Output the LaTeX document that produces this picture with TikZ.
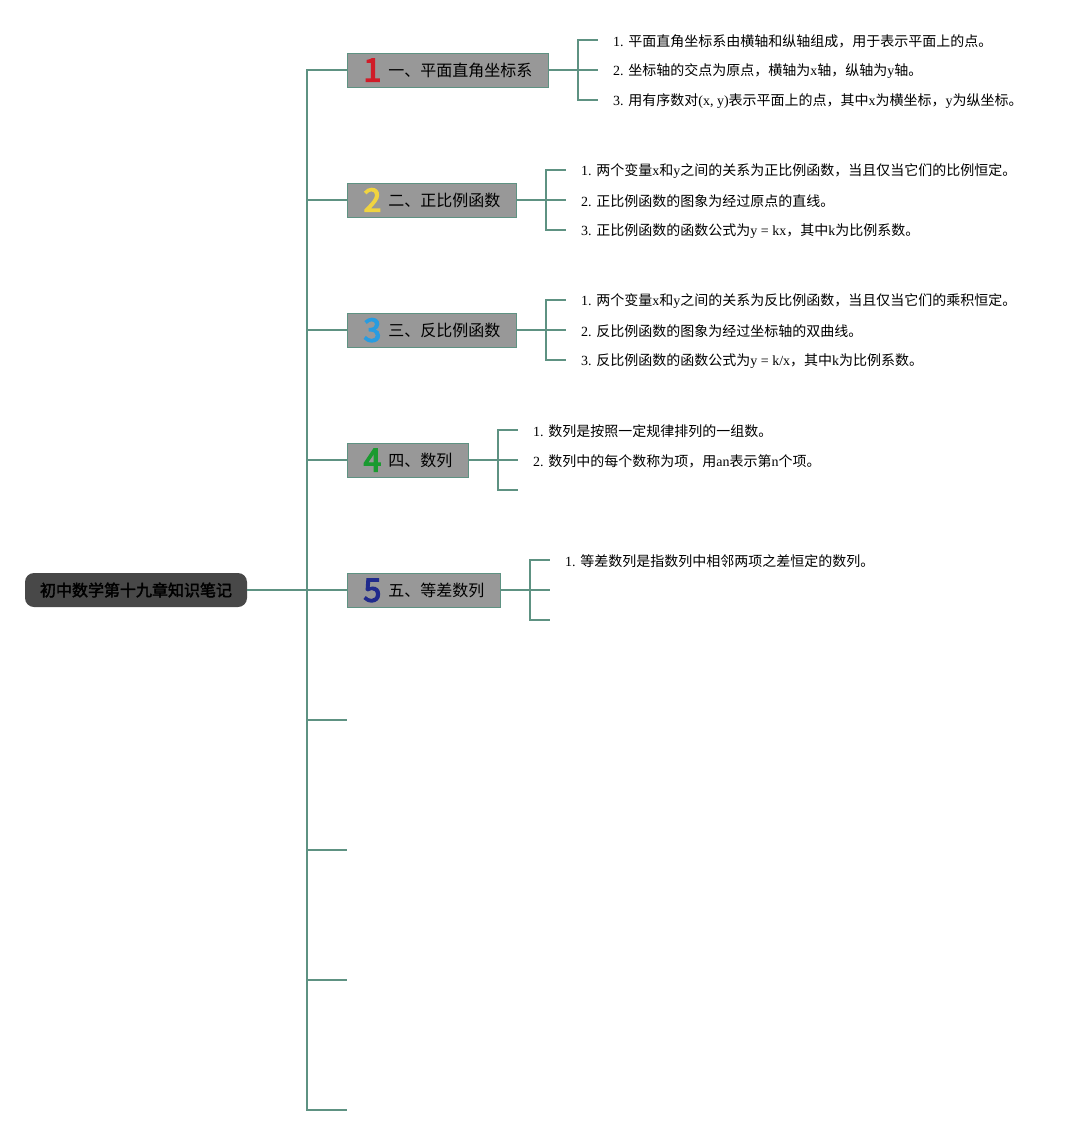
\documentclass[tikz,border=0pt]{standalone}
\usepackage{fontspec}
\usepackage{tikz}
\usetikzlibrary{calc}
\setmainfont{Liberation Serif}
\newfontfamily\cjk{Noto Sans CJK SC}
\newfontfamily\cjkbold[FakeBold=2.5]{Noto Sans CJK SC}
\newfontfamily\numfont[FakeBold=4]{Noto Sans CJK SC}
\newcommand{\z}[1]{{\cjk #1}}
\newcommand{\numtag}[2]{\smash{\raisebox{-5.5pt}{\textcolor{#1}{\numfont\fontsize{32}{32}\selectfont #2}}}\hspace{7pt}}
\definecolor{linec}{RGB}{94,146,130}
\definecolor{topicfill}{RGB}{152,152,152}
\definecolor{rootfill}{RGB}{72,72,72}
\definecolor{numa}{RGB}{208,28,40}
\definecolor{numb}{RGB}{240,212,64}
\definecolor{numc}{RGB}{40,156,224}
\definecolor{numd}{RGB}{26,154,48}
\definecolor{nume}{RGB}{32,42,140}

\begin{document}
\begin{tikzpicture}[x=1pt,y=-1pt,
  link/.style={draw=linec,line width=2pt},
  rootbox/.style={fill=rootfill,rounded corners=9pt,minimum height=34pt,
    inner xsep=15pt,text=black,font=\cjkbold\fontsize{16}{18}\selectfont},
  topic/.style={anchor=west,fill=topicfill,draw=linec,line width=1pt,
    minimum height=34pt,inner xsep=16pt,inner ysep=0pt,
    font=\cjk\fontsize{16}{18}\selectfont},
  item/.style={anchor=west,inner xsep=15pt,inner ysep=0pt,
    font=\fontsize{14}{16}\selectfont}]
\useasboundingbox (0,0) rectangle (1082,1135);

% centre and spine
\node[rootbox] (root) at (136,590) {初中数学第十九章知识笔记};
\coordinate (spine) at (307,590);

% main topics
\node[topic] (t1) at (347,70) {\numtag{numa}{1}一、平面直角坐标系};
\node[topic] (t2) at (347,200) {\numtag{numb}{2}二、正比例函数};
\node[topic] (t3) at (347,330) {\numtag{numc}{3}三、反比例函数};
\node[topic] (t4) at (347,460) {\numtag{numd}{4}四、数列};
\node[topic] (t5) at (347,590) {\numtag{nume}{5}五、等差数列};
\coordinate (e6) at (347,720);
\coordinate (e7) at (347,850);
\coordinate (e8) at (347,980);
\coordinate (e9) at (347,1110);

\draw[link] (root) -- (spine);
\foreach \t in {t1,t2,t3,t4,t5}
  \draw[link] (spine) |- (\t.west);
\foreach \t in {e6,e7,e8,e9}
  \draw[link] (spine) |- (\t);

% items of topic 1
\node[item] (t1a) at (598,41) {1. \z{平面直角坐标系由横轴和纵轴组成，用于表示平面上的点。}};
\node[item] (t1b) at (598,71) {2. \z{坐标轴的交点为原点，横轴为}x\z{轴，纵轴为}y\z{轴。}};
\node[item] (t1c) at (598,101) {3. \z{用有序数对}(x, y)\z{表示平面上的点，其中}x\z{为横坐标，}y\z{为纵坐标。}};
\coordinate (b1) at (578,70);
\draw[link] (t1) -- (b1);
\foreach \i in {t1a,t1b,t1c}
  \draw[link] (b1) |- ($(\i.west)+(0,-1)$);

% items of topic 2
\node[item] (t2a) at (566,171) {1. \z{两个变量}x\z{和}y\z{之间的关系为正比例函数，当且仅当它们的比例恒定。}};
\node[item] (t2b) at (566,201) {2. \z{正比例函数的图象为经过原点的直线。}};
\node[item] (t2c) at (566,231) {3. \z{正比例函数的函数公式为}y = kx\z{，其中}k\z{为比例系数。}};
\coordinate (b2) at (546,200);
\draw[link] (t2) -- (b2);
\foreach \i in {t2a,t2b,t2c}
  \draw[link] (b2) |- ($(\i.west)+(0,-1)$);

% items of topic 3
\node[item] (t3a) at (566,301) {1. \z{两个变量}x\z{和}y\z{之间的关系为反比例函数，当且仅当它们的乘积恒定。}};
\node[item] (t3b) at (566,331) {2. \z{反比例函数的图象为经过坐标轴的双曲线。}};
\node[item] (t3c) at (566,361) {3. \z{反比例函数的函数公式为}y = k/x\z{，其中}k\z{为比例系数。}};
\coordinate (b3) at (546,330);
\draw[link] (t3) -- (b3);
\foreach \i in {t3a,t3b,t3c}
  \draw[link] (b3) |- ($(\i.west)+(0,-1)$);

% items of topic 4
\node[item] (t4a) at (518,431) {1. \z{数列是按照一定规律排列的一组数。}};
\node[item] (t4b) at (518,461) {2. \z{数列中的每个数称为项，用}an\z{表示第}n\z{个项。}};
\coordinate (b4) at (498,460);
\coordinate (t4c) at (518,490);
\draw[link] (t4) -- (b4);
\foreach \i in {t4a,t4b}
  \draw[link] (b4) |- ($(\i.west)+(0,-1)$);
\draw[link] (b4) |- (t4c);

% items of topic 5
\node[item] (t5a) at (550,561) {1. \z{等差数列是指数列中相邻两项之差恒定的数列。}};
\coordinate (b5) at (530,590);
\coordinate (t5b) at (550,590);
\coordinate (t5c) at (550,620);
\draw[link] (t5) -- (b5);
\draw[link] (b5) |- ($(t5a.west)+(0,-1)$);
\draw[link] (b5) -- (t5b);
\draw[link] (b5) |- (t5c);
\end{tikzpicture}
\end{document}
